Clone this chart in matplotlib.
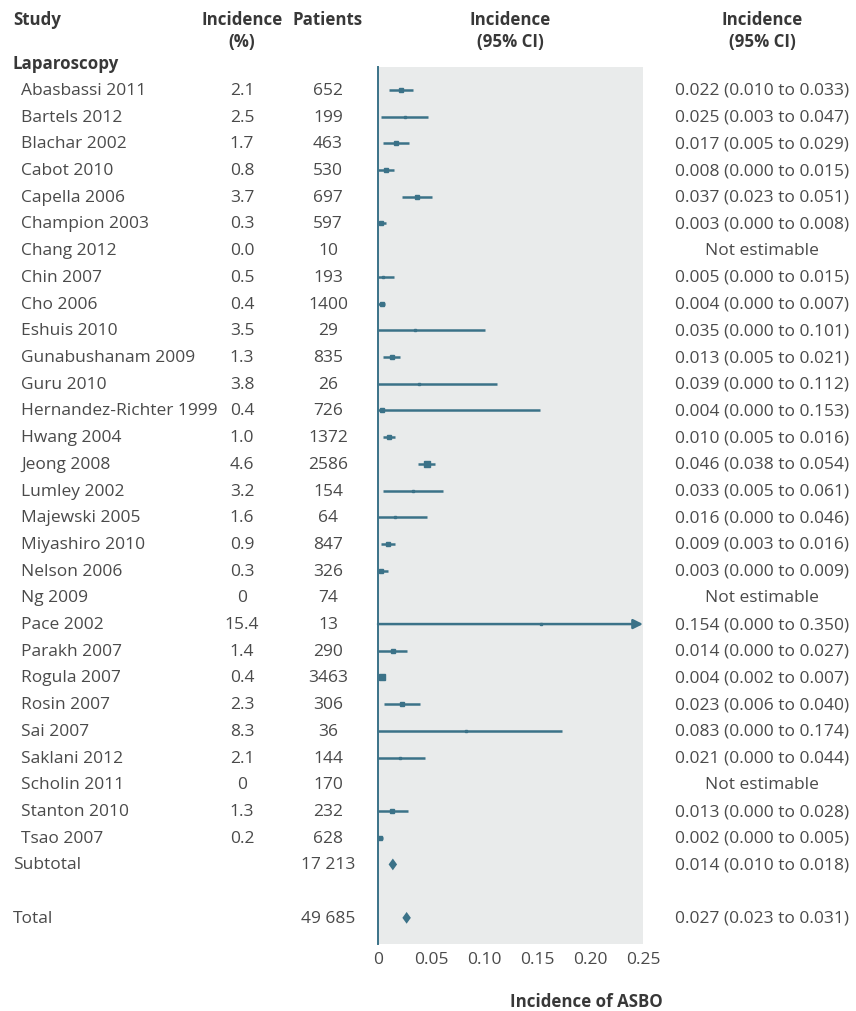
import numpy as np
import matplotlib.pyplot as plt
import matplotlib.transforms as mtransforms
from matplotlib.patches import Polygon

plt.rcParams['font.family'] = ['Open Sans', 'DejaVu Sans']

# Study level data (laparoscopy subgroup)
studies = ['Abasbassi 2011', 'Bartels 2012', 'Blachar 2002', 'Cabot 2010', 'Capella 2006',
           'Champion 2003', 'Chang 2012', 'Chin 2007', 'Cho 2006', 'Eshuis 2010',
           'Gunabushanam 2009', 'Guru 2010', 'Hernandez-Richter 1999', 'Hwang 2004',
           'Jeong 2008', 'Lumley 2002', 'Majewski 2005', 'Miyashiro 2010', 'Nelson 2006',
           'Ng 2009', 'Pace 2002', 'Parakh 2007', 'Rogula 2007', 'Rosin 2007', 'Sai 2007',
           'Saklani 2012', 'Scholin 2011', 'Stanton 2010', 'Tsao 2007']
incidence_pct = ['2.1', '2.5', '1.7', '0.8', '3.7', '0.3', '0.0', '0.5', '0.4', '3.5',
                 '1.3', '3.8', '0.4', '1.0', '4.6', '3.2', '1.6', '0.9', '0.3', '0',
                 '15.4', '1.4', '0.4', '2.3', '8.3', '2.1', '0', '1.3', '0.2']
patients = [652, 199, 463, 530, 697, 597, 10, 193, 1400, 29,
            835, 26, 726, 1372, 2586, 154, 64, 847, 326, 74,
            13, 290, 3463, 306, 36, 144, 170, 232, 628]
est = [0.022, 0.025, 0.017, 0.008, 0.037, 0.003, None, 0.005, 0.004, 0.035,
       0.013, 0.039, 0.004, 0.010, 0.046, 0.033, 0.016, 0.009, 0.003, None,
       0.154, 0.014, 0.004, 0.023, 0.083, 0.021, None, 0.013, 0.002]
lo = [0.010, 0.003, 0.005, 0.000, 0.023, 0.000, None, 0.000, 0.000, 0.000,
      0.005, 0.000, 0.000, 0.005, 0.038, 0.005, 0.000, 0.003, 0.000, None,
      0.000, 0.000, 0.002, 0.006, 0.000, 0.000, None, 0.000, 0.000]
hi = [0.033, 0.047, 0.029, 0.015, 0.051, 0.008, None, 0.015, 0.007, 0.101,
      0.021, 0.112, 0.153, 0.016, 0.054, 0.061, 0.046, 0.016, 0.009, None,
      0.350, 0.027, 0.007, 0.040, 0.174, 0.044, None, 0.028, 0.005]

# Pooled estimates
pooled_labels = ['Subtotal', 'Total']
pooled_patients = [17213, 49685]
pooled_est = [0.014, 0.027]
pooled_lo = [0.010, 0.023]
pooled_hi = [0.018, 0.031]

xticks = [0, 0.05, 0.10, 0.15, 0.20, 0.25]
xticklabels = ['0', '0.05', '0.10', '0.15', '0.20', '0.25']

teal = '#3b7288'
panel = '#e9ebeb'
txt = '#4a4a4a'
head = '#383838'
fs = 12.5
fs_head = 12.2


def fmt_n(n):
    if n >= 10000:
        return '{:,}'.format(n).replace(',', ' ')
    return str(n)


def fmt_ci(e, l, h):
    if e is None:
        return 'Not estimable'
    return '{:.3f} ({:.3f} to {:.3f})'.format(e, l, h)


W, H = 856, 1012
fig = plt.figure(figsize=(W / 100, H / 100), dpi=100)
ax = fig.add_axes([378 / W, 67 / H, 265 / W, 877 / H])
ax.set_facecolor(panel)

# row positions: studies 0..28, subtotal 29, blank, total 31
n = len(studies)
rows = np.arange(n)
pooled_rows = [n, n + 2]
ax.set_xlim(0, 0.25)
ax.set_ylim(31.98, -0.86)

for sp in ['top', 'right', 'bottom']:
    ax.spines[sp].set_visible(False)
ax.spines['left'].set_color(teal)
ax.spines['left'].set_linewidth(1.4)
ax.set_yticks([])
ax.set_xticks(xticks)
ax.set_xticklabels(xticklabels)
ax.tick_params(axis='x', length=0, pad=5, labelsize=fs, labelcolor=txt)

# individual studies
for r, e, l, h, p in zip(rows, est, lo, hi, patients):
    if e is None:
        continue
    if h > 0.25:
        ax.annotate('', xy=(0.25, r), xytext=(l, r),
                    arrowprops=dict(arrowstyle='-|>', color=teal, lw=1.8,
                                    mutation_scale=14, shrinkA=0, shrinkB=0),
                    annotation_clip=False)
    else:
        ax.plot([l, h], [r, r], color=teal, lw=1.8, solid_capstyle='butt')
    ms = 1.5 + 2.6 * np.sqrt(p / max(patients))
    ax.plot(e, r, marker='s', ms=ms, color=teal, mec=teal, lw=0)

# pooled diamonds
for r, e, l, h in zip(pooled_rows, pooled_est, pooled_lo, pooled_hi):
    ax.add_patch(Polygon([[l, r], [e, r - 0.22], [h, r], [e, r + 0.22]],
                         closed=True, color=teal, lw=0))

# text columns
tr = mtransforms.blended_transform_factory(fig.transFigure, ax.transData)
x_study, x_indent, x_inc, x_pat, x_ci = 13 / W, 21 / W, 242 / W, 328 / W, 762 / W

ax.text(x_study, -1, 'Laparoscopy', transform=tr, ha='left', va='center',
        fontsize=fs_head, fontweight='bold', color=head, clip_on=False)
for r, s, ip, p, e, l, h in zip(rows, studies, incidence_pct, patients, est, lo, hi):
    ax.text(x_indent, r, s, transform=tr, ha='left', va='center', fontsize=fs, color=txt)
    ax.text(x_inc, r, ip, transform=tr, ha='center', va='center', fontsize=fs, color=txt)
    ax.text(x_pat, r, fmt_n(p), transform=tr, ha='center', va='center', fontsize=fs, color=txt)
    ax.text(x_ci, r, fmt_ci(e, l, h), transform=tr, ha='center', va='center', fontsize=fs, color=txt)

for r, lab, p, e, l, h in zip(pooled_rows, pooled_labels, pooled_patients,
                              pooled_est, pooled_lo, pooled_hi):
    ax.text(x_study, r, lab, transform=tr, ha='left', va='center', fontsize=fs, color=txt)
    ax.text(x_pat, r, fmt_n(p), transform=tr, ha='center', va='center', fontsize=fs, color=txt)
    ax.text(x_ci, r, fmt_ci(e, l, h), transform=tr, ha='center', va='center', fontsize=fs, color=txt)

# column headers
y1, y2 = 1 - 20 / H, 1 - 42 / H
hdr = dict(fontsize=fs_head, fontweight='bold', color=head, va='center')
fig.text(x_study, y1, 'Study', ha='left', **hdr)
fig.text(x_inc, y1, 'Incidence', ha='center', **hdr)
fig.text(x_inc, y2, '(%)', ha='center', **hdr)
fig.text(x_pat, y1, 'Patients', ha='center', **hdr)
fig.text(510 / W, y1, 'Incidence', ha='center', **hdr)
fig.text(510 / W, y2, '(95% CI)', ha='center', **hdr)
fig.text(x_ci, y1, 'Incidence', ha='center', **hdr)
fig.text(x_ci, y2, '(95% CI)', ha='center', **hdr)

fig.text(586 / W, 1 - 1002 / H, 'Incidence of ASBO', ha='center', **hdr)

fig.savefig('out.png', dpi=100)
